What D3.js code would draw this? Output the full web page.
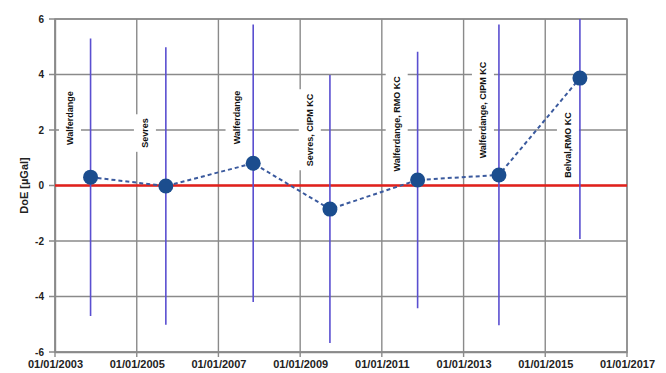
<!DOCTYPE html>
<html>
<head>
<meta charset="utf-8">
<script src="https://cdn.jsdelivr.net/npm/d3@7"></script>
<style>
  html, body { margin: 0; padding: 0; background: #fff; }
  svg { display: block; }
  text { font-family: "Liberation Sans", Arial, sans-serif; font-weight: bold; }
</style>
</head>
<body>
<svg id="chart" width="666" height="373"></svg>
<script>
// Comparison dates and degrees of equivalence (µGal)
const dates = ["2003-11-15", "2005-09-18", "2007-11-08", "2009-09-24", "2011-11-17", "2013-11-13", "2015-11-07"];
const doe = [0.30, -0.02, 0.80, -0.85, 0.20, 0.38, 3.87];
const uncertainty = [5.0, 5.0, 5.0, 4.83, 4.62, 5.42, 5.80];

// Comparison annotations and their anchor (date, value)
const labels = ["Walferdange", "Sevres", "Walferdange", "Sevres, CIPM KC", "Walferdange, RMO KC", "Walferdange, CIPM KC", "Belval,RMO KC"];
const labelDates = ["2003-05-15", "2005-03-15", "2007-06-12", "2009-03-28", "2011-05-14", "2013-06-23", "2015-07-23"];
const labelValues = [2.43, 1.89, 2.45, 2.0, 2.22, 2.72, 1.46];

// Axis ticks
const xTicks = ["2003-01-01", "2005-01-01", "2007-01-01", "2009-01-01", "2011-01-01", "2013-01-01", "2015-01-01", "2017-01-01"];
const yTicks = [-6, -4, -2, 0, 2, 4, 6];

const parse = d3.timeParse("%Y-%m-%d");
const fmt = d3.timeFormat("%d/%m/%Y");

const margin = { top: 19, right: 39, bottom: 21, left: 55 };
const svg = d3.select("#chart");
const W = +svg.attr("width") - margin.left - margin.right;
const H = +svg.attr("height") - margin.top - margin.bottom;
const g = svg.append("g").attr("transform", `translate(${margin.left},${margin.top})`);

const x = d3.scaleTime().domain([parse(xTicks[0]), parse(xTicks[xTicks.length - 1])]).range([0, W]);
const y = d3.scaleLinear().domain([-6, 6]).range([H, 0]);

const gridColor = "#8a8a8a";

// Gridlines (extending slightly outside the plot as tick marks)
g.append("g").selectAll("line").data(yTicks).join("line")
  .attr("x1", -6).attr("x2", W)
  .attr("y1", d => y(d)).attr("y2", d => y(d))
  .attr("stroke", gridColor).attr("stroke-width", 1.4);
g.append("g").selectAll("line").data(xTicks.map(parse)).join("line")
  .attr("x1", d => x(d)).attr("x2", d => x(d))
  .attr("y1", 0).attr("y2", H + 5)
  .attr("stroke", gridColor).attr("stroke-width", 1.4);

// Axes
const yAxis = g.append("g").call(d3.axisLeft(y).tickValues(yTicks).tickSize(0).tickPadding(11).tickFormat(d => String(d)));
yAxis.select(".domain").attr("stroke", gridColor).attr("stroke-width", 1.4);
yAxis.selectAll("text").attr("font-size", 10).attr("fill", "#222")
  .style("font-family", "'Liberation Sans', Arial, sans-serif").style("font-weight", "bold");

const xAxis = g.append("g").attr("transform", `translate(0,${H})`)
  .call(d3.axisBottom(x).tickValues(xTicks.map(parse)).tickSize(0).tickPadding(8).tickFormat(fmt));
xAxis.select(".domain").attr("stroke", gridColor).attr("stroke-width", 1.4);
xAxis.selectAll("text").attr("font-size", 11).attr("fill", "#222")
  .style("font-family", "'Liberation Sans', Arial, sans-serif").style("font-weight", "bold");

// Plot border
g.append("rect").attr("width", W).attr("height", H)
  .attr("fill", "none").attr("stroke", gridColor).attr("stroke-width", 1.4);

// Y-axis title
svg.append("text")
  .attr("transform", `translate(28,${margin.top + H / 2}) rotate(-90)`)
  .attr("text-anchor", "middle")
  .attr("font-size", 11).attr("fill", "#222")
  .text("DoE [µGal]");

// Annotations with white backing
const ann = g.append("g").selectAll("g").data(labels).join("g")
  .attr("transform", (d, i) => `translate(${x(parse(labelDates[i]))},${y(labelValues[i])}) rotate(-90)`);
ann.append("text")
  .attr("text-anchor", "middle").attr("dy", "0.35em")
  .attr("font-size", 9).attr("fill", "#111")
  .text(d => d);
ann.each(function () {
  const grp = d3.select(this);
  const bb = grp.select("text").node().getBBox();
  grp.insert("rect", "text")
    .attr("x", bb.x - 4).attr("y", -11)
    .attr("width", bb.width + 8).attr("height", 22)
    .attr("fill", "#fff");
});

// Reference line at zero
g.append("line").attr("x1", 0).attr("x2", W).attr("y1", y(0)).attr("y2", y(0))
  .attr("stroke", "#e3201b").attr("stroke-width", 2.6);

// Clip for error bars
svg.append("defs").append("clipPath").attr("id", "plotclip")
  .append("rect").attr("width", W).attr("height", H);

const pts = dates.map((d, i) => ({ date: parse(d), v: doe[i], u: uncertainty[i] }));

// Error bars
g.append("g").attr("clip-path", "url(#plotclip)")
  .selectAll("line").data(pts).join("line")
  .attr("x1", d => x(d.date)).attr("x2", d => x(d.date))
  .attr("y1", d => y(d.v - d.u)).attr("y2", d => y(d.v + d.u))
  .attr("stroke", "#5a4fd0").attr("stroke-width", 1.6);

// Dashed connecting line
g.append("path").datum(pts)
  .attr("d", d3.line().x(d => x(d.date)).y(d => y(d.v)))
  .attr("fill", "none").attr("stroke", "#3b5a9e").attr("stroke-width", 2)
  .attr("stroke-dasharray", "4,3");

// Markers
g.append("g").selectAll("circle").data(pts).join("circle")
  .attr("cx", d => x(d.date)).attr("cy", d => y(d.v))
  .attr("r", 7.5).attr("fill", "#1b4d8e");
</script>
</body>
</html>
